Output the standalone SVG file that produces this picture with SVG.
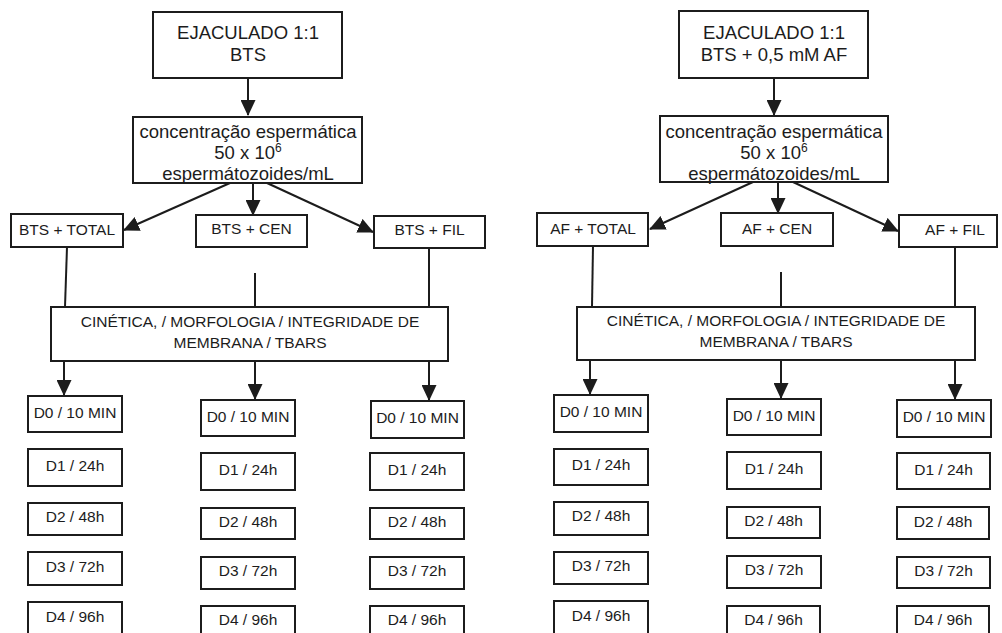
<svg xmlns="http://www.w3.org/2000/svg" width="1002" height="633" viewBox="0 0 1002 633">
<style>
rect{fill:#fff;stroke:#1c1c1c;stroke-width:2}
text{font-family:"Liberation Sans",Arial,sans-serif;fill:#1c1c1c;text-anchor:middle}
.b{font-size:18.5px}
.s{font-size:15.5px}
#connectors line{stroke:#1c1c1c;stroke-width:2}
</style>
<defs>
<marker id="ah" markerUnits="userSpaceOnUse" markerWidth="16" markerHeight="15" refX="15" refY="7.5" orient="auto">
<path d="M0,0 L16,7.5 L0,15 z" fill="#1c1c1c"/>
</marker>
</defs>
<rect x="0" y="0" width="1002" height="633" style="fill:#fff;stroke:none"/>
<g id="connectors">
<line x1="248" y1="78" x2="248" y2="115" marker-end="url(#ah)"/>
<line x1="230" y1="183" x2="124" y2="230" marker-end="url(#ah)"/>
<line x1="253" y1="183" x2="253" y2="215" marker-end="url(#ah)"/>
<line x1="267" y1="183" x2="373" y2="232" marker-end="url(#ah)"/>
<line x1="67" y1="247" x2="65" y2="307"/>
<line x1="255" y1="273" x2="255" y2="307"/>
<line x1="429" y1="248" x2="429" y2="307"/>
<line x1="64" y1="361" x2="64" y2="395" marker-end="url(#ah)"/>
<line x1="255" y1="361" x2="255" y2="399" marker-end="url(#ah)"/>
<line x1="429" y1="361" x2="429" y2="400" marker-end="url(#ah)"/>
<line x1="774" y1="78" x2="774" y2="115" marker-end="url(#ah)"/>
<line x1="753" y1="182" x2="650" y2="229" marker-end="url(#ah)"/>
<line x1="778" y1="182" x2="778" y2="213" marker-end="url(#ah)"/>
<line x1="793" y1="182" x2="898" y2="231" marker-end="url(#ah)"/>
<line x1="593" y1="246" x2="592" y2="307"/>
<line x1="781" y1="272" x2="781" y2="307"/>
<line x1="955" y1="247" x2="955" y2="307"/>
<line x1="590" y1="360" x2="590" y2="394" marker-end="url(#ah)"/>
<line x1="781" y1="360" x2="781" y2="398" marker-end="url(#ah)"/>
<line x1="955" y1="360" x2="955" y2="399" marker-end="url(#ah)"/>
</g>
<g id="ejac-l"><rect x="153" y="12" width="189" height="66"/><text class="b" x="248" y="39">EJACULADO 1:1</text><text class="b" x="248" y="61">BTS</text></g>
<g id="conc-l"><rect x="133" y="117" width="229" height="66"/><text class="b" x="248" y="138">concentração espermática</text><text class="b" x="248" y="159">50 x 10<tspan font-size="12" dy="-7">6</tspan></text><text class="b" x="248" y="180">espermátozoides/mL</text></g>
<g id="total-l"><rect x="11" y="214" width="112" height="33"/><text class="s" x="67" y="235">BTS + TOTAL</text></g>
<g id="cen-l"><rect x="196" y="215" width="111" height="32"/><text class="s" x="251.5" y="234">BTS + CEN</text></g>
<g id="fil-l"><rect x="374" y="216" width="111" height="32"/><text class="s" x="429.5" y="235">BTS + FIL</text></g>
<g id="cin-l"><rect x="51" y="307" width="397" height="54"/><text class="s" x="250" y="327">CINÉTICA, / MORFOLOGIA / INTEGRIDADE DE</text><text class="s" x="250" y="348">MEMBRANA / TBARS</text></g>
<g id="d0-l1"><rect x="28" y="396" width="94" height="36"/><text class="s" x="75" y="418">D0 / 10 MIN</text></g>
<g id="d1-l1"><rect x="28" y="449" width="94" height="37"/><text class="s" x="75" y="471">D1 / 24h</text></g>
<g id="d2-l1"><rect x="28" y="503" width="94" height="32"/><text class="s" x="75" y="522">D2 / 48h</text></g>
<g id="d3-l1"><rect x="28" y="552" width="94" height="33"/><text class="s" x="75" y="572">D3 / 72h</text></g>
<g id="d4-l1"><rect x="28" y="602" width="94" height="36"/><text class="s" x="75" y="622">D4 / 96h</text></g>
<g id="d0-l2"><rect x="201" y="400" width="94" height="36"/><text class="s" x="248" y="422">D0 / 10 MIN</text></g>
<g id="d1-l2"><rect x="201" y="453" width="94" height="37"/><text class="s" x="248" y="475">D1 / 24h</text></g>
<g id="d2-l2"><rect x="201" y="508" width="94" height="31"/><text class="s" x="248" y="527">D2 / 48h</text></g>
<g id="d3-l2"><rect x="201" y="557" width="94" height="32"/><text class="s" x="248" y="576">D3 / 72h</text></g>
<g id="d4-l2"><rect x="201" y="606" width="94" height="36"/><text class="s" x="248" y="625">D4 / 96h</text></g>
<g id="d0-l3"><rect x="371" y="401" width="93" height="37"/><text class="s" x="417.5" y="423">D0 / 10 MIN</text></g>
<g id="d1-l3"><rect x="370" y="453" width="94" height="37"/><text class="s" x="417" y="475">D1 / 24h</text></g>
<g id="d2-l3"><rect x="370" y="508" width="94" height="31"/><text class="s" x="417" y="527">D2 / 48h</text></g>
<g id="d3-l3"><rect x="370" y="557" width="94" height="32"/><text class="s" x="417" y="576">D3 / 72h</text></g>
<g id="d4-l3"><rect x="370" y="606" width="94" height="36"/><text class="s" x="417" y="625">D4 / 96h</text></g>
<g id="ejac-r"><rect x="679" y="11" width="189" height="67"/><text class="b" x="774" y="39">EJACULADO 1:1</text><text class="b" x="774" y="61">BTS + 0,5 mM AF</text></g>
<g id="conc-r"><rect x="660" y="116" width="228" height="66"/><text class="b" x="774" y="138">concentração espermática</text><text class="b" x="774" y="159">50 x 10<tspan font-size="12" dy="-7">6</tspan></text><text class="b" x="774" y="180">espermátozoides/mL</text></g>
<g id="total-r"><rect x="537" y="213" width="111" height="33"/><text class="s" x="593" y="234">AF + TOTAL</text></g>
<g id="cen-r"><rect x="721" y="213" width="112" height="33"/><text class="s" x="777" y="234">AF + CEN</text></g>
<g id="fil-r"><rect x="899" y="215" width="98" height="32"/><text class="s" x="955" y="235">AF + FIL</text></g>
<g id="cin-r"><rect x="577" y="307" width="398" height="53"/><text class="s" x="776" y="326">CINÉTICA, / MORFOLOGIA / INTEGRIDADE DE</text><text class="s" x="776" y="347">MEMBRANA / TBARS</text></g>
<g id="d0-r1"><rect x="554" y="395" width="94" height="37"/><text class="s" x="601" y="417">D0 / 10 MIN</text></g>
<g id="d1-r1"><rect x="554" y="449" width="94" height="36"/><text class="s" x="601" y="470">D1 / 24h</text></g>
<g id="d2-r1"><rect x="554" y="502" width="94" height="33"/><text class="s" x="601" y="521">D2 / 48h</text></g>
<g id="d3-r1"><rect x="554" y="552" width="94" height="32"/><text class="s" x="601" y="571">D3 / 72h</text></g>
<g id="d4-r1"><rect x="554" y="601" width="94" height="36"/><text class="s" x="601" y="621">D4 / 96h</text></g>
<g id="d0-r2"><rect x="727" y="399" width="94" height="36"/><text class="s" x="774" y="421">D0 / 10 MIN</text></g>
<g id="d1-r2"><rect x="727" y="452" width="94" height="37"/><text class="s" x="774" y="474">D1 / 24h</text></g>
<g id="d2-r2"><rect x="727" y="507" width="93" height="31"/><text class="s" x="773.5" y="526">D2 / 48h</text></g>
<g id="d3-r2"><rect x="727" y="556" width="94" height="32"/><text class="s" x="774" y="575">D3 / 72h</text></g>
<g id="d4-r2"><rect x="727" y="606" width="93" height="36"/><text class="s" x="773.5" y="625">D4 / 96h</text></g>
<g id="d0-r3"><rect x="897" y="400" width="94" height="37"/><text class="s" x="944" y="422">D0 / 10 MIN</text></g>
<g id="d1-r3"><rect x="897" y="453" width="93" height="36"/><text class="s" x="943.5" y="475">D1 / 24h</text></g>
<g id="d2-r3"><rect x="897" y="507" width="92" height="32"/><text class="s" x="943" y="527">D2 / 48h</text></g>
<g id="d3-r3"><rect x="897" y="557" width="93" height="31"/><text class="s" x="943.5" y="576">D3 / 72h</text></g>
<g id="d4-r3"><rect x="897" y="606" width="92" height="36"/><text class="s" x="943" y="625">D4 / 96h</text></g>
</svg>
